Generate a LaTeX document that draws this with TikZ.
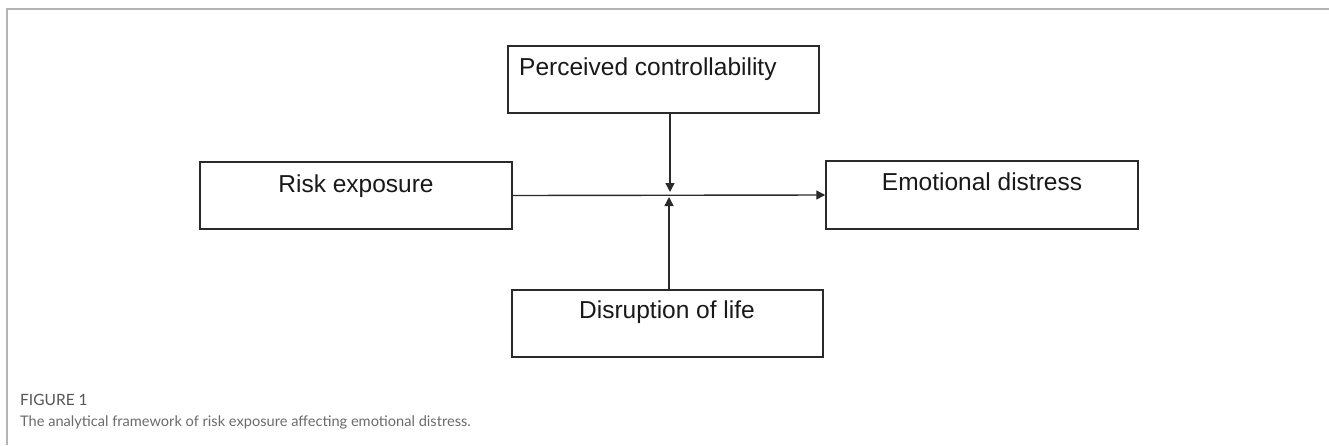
\documentclass[tikz,border=0pt]{standalone}
\usepackage{fontspec}
\setmainfont{Liberation Sans}
\newfontfamily\capfont{Lato}
\usetikzlibrary{arrows.meta}
\definecolor{framegray}{HTML}{B4B4B4}
\definecolor{boxline}{HTML}{2A2A2A}
\definecolor{capgray}{HTML}{555555}
\definecolor{captext}{HTML}{6A6A6A}
\tikzset{
  box/.style={draw=boxline, line width=1.5pt, inner sep=0pt, fill=white},
  boxtext/.style={anchor=base, inner sep=0pt, font=\fontsize{24.5}{29}\selectfont, text=black!90},
  conn/.style={draw=boxline, line width=1.4pt, -{Triangle[length=9pt,width=9pt]}},
  frameline/.style={draw=framegray, line width=2pt}
}
\begin{document}
\begin{tikzpicture}[x=1pt,y=-1pt]
\useasboundingbox (0,0) rectangle (1329,445);
% frame
\draw[frameline] (7,445) -- (7,9) -- (1329,9);
% boxes
\node[box, minimum width=311pt, minimum height=67pt] (pc) at (663.5,79.5) {};
\node[box, minimum width=312pt, minimum height=67pt] (risk) at (356,195.5) {};
\node[box, minimum width=312pt, minimum height=68pt] (emo) at (982,195) {};
\node[box, minimum width=311pt, minimum height=67pt] (dis) at (667.5,323.5) {};
% texts
\node[boxtext, anchor=base west] (pct) at (519,75) {Perceived controllability};
\node[boxtext] (riskt) at (356,192) {Risk exposure};
\node[boxtext] (emot) at (982,190) {Emotional distress};
\node[boxtext] (dist) at (667,318) {Disruption of life};
% connectors
\coordinate (jtop) at (670,192);
\coordinate (jbot) at (669,197);
\draw[conn] (risk.east) -- (emo.west);
\draw[conn] (pc.south -| jtop) -- (jtop);
\draw[conn] (dis.north -| jbot) -- (jbot);
% caption
\node[anchor=base west, inner sep=0pt, font=\capfont\fontsize{15.5}{18}\selectfont, text=capgray] (fig) at (20,405) {FIGURE 1};
\node[anchor=base west, inner sep=0pt, font=\capfont\fontsize{14.6}{18}\selectfont, text=captext] (cap) at (20,426) {The analytical framework of risk exposure affecting emotional distress.};
\end{tikzpicture}
\end{document}
